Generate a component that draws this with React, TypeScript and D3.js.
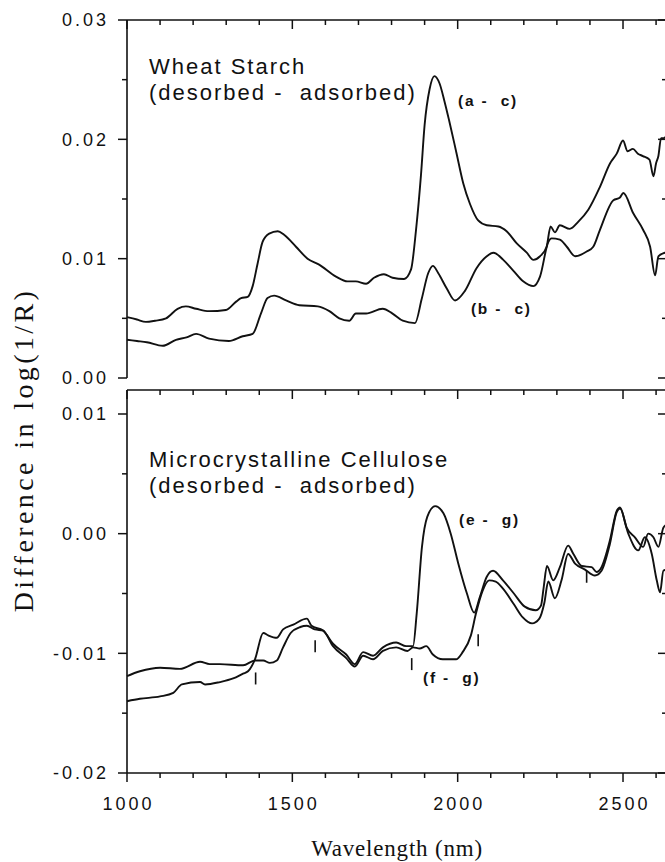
import React from 'react';
import * as d3 from 'd3';

// wheat starch, (a - c)
const wlAC = [1000, 1030, 1057, 1085, 1118, 1153, 1178, 1209, 1248, 1299, 1330, 1345, 1365, 1380, 1395, 1410, 1430, 1456, 1475, 1511, 1546, 1581, 1632, 1667, 1692, 1723, 1747, 1777, 1803, 1838, 1859, 1874, 1889, 1900, 1915, 1930, 1945, 1960, 1974, 1996, 2017, 2037, 2062, 2088, 2123, 2148, 2178, 2209, 2229, 2249, 2269, 2281, 2294, 2309, 2339, 2365, 2395, 2430, 2461, 2481, 2500, 2514, 2530, 2545, 2560, 2580, 2592, 2600, 2607, 2615, 2623, 2635];
const valAC = [0.0051, 0.0049, 0.0047, 0.0048, 0.0050, 0.0058, 0.0060, 0.0058, 0.0056, 0.0057, 0.0064, 0.0067, 0.0068, 0.0077, 0.0096, 0.0114, 0.0121, 0.0123, 0.0120, 0.0110, 0.0100, 0.0095, 0.0085, 0.0081, 0.0081, 0.0079, 0.0084, 0.0087, 0.0084, 0.0083, 0.0091, 0.0124, 0.0170, 0.0212, 0.0242, 0.0253, 0.0247, 0.0232, 0.0216, 0.0189, 0.0163, 0.0146, 0.0132, 0.0128, 0.0127, 0.0123, 0.0113, 0.0105, 0.0099, 0.0102, 0.0110, 0.0127, 0.0122, 0.0128, 0.0125, 0.0131, 0.0141, 0.0160, 0.0180, 0.0188, 0.0199, 0.0190, 0.0192, 0.0188, 0.0186, 0.0183, 0.0169, 0.0180, 0.0186, 0.0201, 0.0201, 0.0205];

// wheat starch, (b - c)
const wlBC = [1000, 1030, 1060, 1108, 1148, 1180, 1209, 1248, 1308, 1350, 1380, 1405, 1425, 1445, 1481, 1521, 1577, 1612, 1642, 1672, 1692, 1723, 1773, 1803, 1834, 1871, 1891, 1911, 1925, 1941, 1967, 1992, 2022, 2057, 2088, 2108, 2138, 2168, 2198, 2229, 2249, 2274, 2284, 2309, 2330, 2355, 2390, 2410, 2430, 2471, 2490, 2501, 2531, 2561, 2582, 2597, 2607, 2627, 2635];
const valBC = [0.0032, 0.0031, 0.0030, 0.0027, 0.0032, 0.0034, 0.0037, 0.0033, 0.0031, 0.0035, 0.0037, 0.0054, 0.0067, 0.0069, 0.0065, 0.0061, 0.0060, 0.0056, 0.0050, 0.0048, 0.0054, 0.0054, 0.0058, 0.0054, 0.0048, 0.0046, 0.0066, 0.0088, 0.0094, 0.0088, 0.0075, 0.0065, 0.0073, 0.0092, 0.0102, 0.0105, 0.0099, 0.0090, 0.0081, 0.0077, 0.0085, 0.0114, 0.0117, 0.0116, 0.0110, 0.0102, 0.0106, 0.0110, 0.0124, 0.0149, 0.0151, 0.0155, 0.0138, 0.0124, 0.0110, 0.0086, 0.0102, 0.0105, 0.0106];

// microcrystalline cellulose, (e - g)
const wlEG = [1000, 1039, 1100, 1140, 1166, 1221, 1236, 1281, 1321, 1351, 1366, 1387, 1412, 1427, 1453, 1472, 1503, 1544, 1558, 1593, 1623, 1663, 1689, 1714, 1744, 1774, 1814, 1844, 1865, 1876, 1892, 1908, 1932, 1957, 1979, 2001, 2028, 2050, 2067, 2088, 2107, 2137, 2170, 2203, 2236, 2252, 2260, 2270, 2289, 2309, 2334, 2350, 2375, 2405, 2420, 2435, 2460, 2481, 2491, 2511, 2536, 2561, 2576, 2592, 2607, 2622, 2635];
const valEG = [-0.0140, -0.0138, -0.0136, -0.0133, -0.0126, -0.0124, -0.0126, -0.0124, -0.0121, -0.0117, -0.0115, -0.0105, -0.0083, -0.0085, -0.0087, -0.0080, -0.0076, -0.0071, -0.0077, -0.0081, -0.0092, -0.0101, -0.0109, -0.0099, -0.0102, -0.0095, -0.0091, -0.0094, -0.0094, -0.0067, -0.0011, 0.0014, 0.0023, 0.0017, 0.0000, -0.0024, -0.0050, -0.0066, -0.0053, -0.0036, -0.0031, -0.0039, -0.0050, -0.0061, -0.0064, -0.0060, -0.0045, -0.0027, -0.0039, -0.0028, -0.0010, -0.0017, -0.0027, -0.0028, -0.0032, -0.0028, -0.0006, 0.0019, 0.0022, 0.0005, -0.0003, -0.0011, 0.0000, -0.0003, -0.0011, 0.0005, 0.0008];

// microcrystalline cellulose, (f - g)
const wlFG = [1000, 1039, 1100, 1160, 1221, 1250, 1281, 1351, 1387, 1412, 1432, 1453, 1472, 1495, 1524, 1544, 1568, 1593, 1623, 1663, 1689, 1714, 1744, 1774, 1814, 1848, 1865, 1885, 1905, 1925, 1955, 1995, 2015, 2040, 2055, 2075, 2095, 2115, 2137, 2170, 2197, 2225, 2247, 2262, 2274, 2294, 2314, 2334, 2355, 2385, 2415, 2435, 2460, 2481, 2491, 2516, 2546, 2566, 2587, 2602, 2612, 2622, 2635];
const valFG = [-0.0119, -0.0115, -0.0112, -0.0113, -0.0107, -0.0109, -0.0109, -0.0110, -0.0106, -0.0106, -0.0108, -0.0106, -0.0095, -0.0083, -0.0078, -0.0077, -0.0080, -0.0081, -0.0094, -0.0104, -0.0111, -0.0102, -0.0105, -0.0098, -0.0095, -0.0098, -0.0095, -0.0096, -0.0094, -0.0101, -0.0105, -0.0105, -0.0099, -0.0085, -0.0067, -0.0048, -0.0039, -0.0040, -0.0046, -0.0059, -0.0070, -0.0075, -0.0071, -0.0058, -0.0040, -0.0054, -0.0039, -0.0017, -0.0025, -0.0030, -0.0035, -0.0031, -0.0009, 0.0018, 0.0021, 0.0000, -0.0014, -0.0003, -0.0017, -0.0039, -0.0049, -0.0031, -0.0030];

// little vertical markers in the cellulose panel
const markWl = [1389, 1569, 1861, 2062, 2390];
const markVal = [-0.0121, -0.0094, -0.0109, -0.0089, -0.0036];

const xTicks = [1000, 1500, 2000, 2500];
const topYTicks = [0, 0.01, 0.02, 0.03];
const botYTicks = [-0.02, -0.01, 0, 0.01];

const topTitle = ['Wheat Starch', '(desorbed -  adsorbed)'];
const botTitle = ['Microcrystalline Cellulose', '(desorbed -  adsorbed)'];
const seriesNames = ['(a -  c)', '(b -  c)', '(e -  g)', '(f -  g)'];

const ink = '#111';
const sans = "'Liberation Sans', Arial, Helvetica, sans-serif";
const serif = "'Liberation Serif', 'Times New Roman', serif";

const isMajorY = (v: number) => Math.abs(v * 100 - Math.round(v * 100)) < 1e-6;

export default function App() {
  const W = 665, H = 862;
  const x = d3.scaleLinear().domain([1000, 2630]).range([127, 666]);
  const yTop = d3.scaleLinear().domain([0, 0.03]).range([378, 20]);
  const yBot = d3.scaleLinear().domain([-0.02, 0.01]).range([773, 414]);
  const botFrame = 390;
  const xLeft = x(1000), xRight = x(2630);

  const zip = (w: number[], v: number[]) => w.map((d, i) => [d, v[i]] as [number, number]);
  const lineTop = d3.line<[number, number]>().x(d => x(d[0])).y(d => yTop(d[1])).curve(d3.curveMonotoneX);
  const lineBot = d3.line<[number, number]>().x(d => x(d[0])).y(d => yBot(d[1])).curve(d3.curveMonotoneX);

  const xMinor = d3.range(1000, 2631, 100);
  const topMinor = d3.range(0, 0.0301, 0.005);
  const botMinor = d3.range(-0.02, 0.0101, 0.005);

  const tickFont = 18, tickLs = 3;
  const titleFont = 22, titleLs = 2;

  const xFrameTicks = (y0: number, dir: number, key: string) =>
    xMinor.map(w => (
      <line key={key + w} x1={x(w)} x2={x(w)} y1={y0} y2={y0 + dir * (w % 500 === 0 ? 9 : 5)} stroke={ink} strokeWidth={1.5} />
    ));

  const yAxisTicks = (vals: number[], y: d3.ScaleLinear<number, number>, key: string) =>
    vals.map((v, i) => (
      <g key={key + i}>
        <line x1={xLeft} x2={xLeft - (isMajorY(v) ? 9 : 5)} y1={y(v)} y2={y(v)} stroke={ink} strokeWidth={1.5} />
        <line x1={xRight} x2={xRight - (isMajorY(v) ? 8 : 4)} y1={y(v)} y2={y(v)} stroke={ink} strokeWidth={1.5} />
      </g>
    ));

  const yLabels = (vals: number[], y: d3.ScaleLinear<number, number>, key: string) =>
    vals.map((v, i) => (
      <text key={key + i} x={106 + tickLs} y={y(v)} dy="0.36em" textAnchor="end"
        fontFamily={sans} fontSize={tickFont} letterSpacing={tickLs} fill={ink}>
        {v.toFixed(2)}
      </text>
    ));

  const lines = [
    { d: lineTop(zip(wlAC, valAC)) },
    { d: lineTop(zip(wlBC, valBC)) },
    { d: lineBot(zip(wlEG, valEG)) },
    { d: lineBot(zip(wlFG, valFG)) },
  ];

  return (
    <svg width={W} height={H} style={{ position: 'absolute', left: 0, top: 0, background: '#fff' }}>
      <rect width={W} height={H} fill="#fff" />

      {/* top panel frame */}
      <line x1={xLeft} x2={xLeft} y1={yTop(0.03)} y2={yTop(0)} stroke={ink} strokeWidth={1.6} />
      <line x1={xLeft} x2={xRight} y1={yTop(0.03)} y2={yTop(0.03)} stroke={ink} strokeWidth={1.6} />
      <line x1={xRight} x2={xRight} y1={yTop(0.03)} y2={yTop(0)} stroke={ink} strokeWidth={1.6} />
      {xFrameTicks(yTop(0.03), 1, 'tt')}
      {yAxisTicks(topMinor, yTop, 'ty')}
      {yLabels(topYTicks, yTop, 'tl')}

      {/* bottom panel frame */}
      <line x1={xLeft} x2={xLeft} y1={botFrame} y2={yBot(-0.02)} stroke={ink} strokeWidth={1.6} />
      <line x1={xLeft} x2={xRight} y1={botFrame} y2={botFrame} stroke={ink} strokeWidth={1.6} />
      <line x1={xLeft} x2={xRight} y1={yBot(-0.02)} y2={yBot(-0.02)} stroke={ink} strokeWidth={1.6} />
      <line x1={xRight} x2={xRight} y1={botFrame} y2={yBot(-0.02)} stroke={ink} strokeWidth={1.6} />
      {xFrameTicks(botFrame, 1, 'bt')}
      {xFrameTicks(yBot(-0.02), 1, 'bb')}
      {yAxisTicks(botMinor, yBot, 'by')}
      {yLabels(botYTicks, yBot, 'bl')}

      {xTicks.map(w => (
        <text key={'xl' + w} x={x(w) + tickLs / 2} y={810} textAnchor="middle"
          fontFamily={sans} fontSize={tickFont} letterSpacing={tickLs} fill={ink}>{w}</text>
      ))}

      {/* spectra */}
      {lines.map((l, i) => (
        <path key={'s' + i} d={l.d || ''} fill="none" stroke={ink} strokeWidth={1.9} strokeLinejoin="round" />
      ))}

      {markWl.map((w, i) => (
        <line key={'m' + i} x1={x(w)} x2={x(w)} y1={yBot(markVal[i]) - 6} y2={yBot(markVal[i]) + 6} stroke={ink} strokeWidth={1.6} />
      ))}

      {/* panel titles */}
      {topTitle.map((t, i) => (
        <text key={'tt' + i} x={149} y={74 + i * 26} fontFamily={sans} fontSize={titleFont}
          letterSpacing={titleLs} fill={ink} style={{ whiteSpace: 'pre' }}>{t}</text>
      ))}
      {botTitle.map((t, i) => (
        <text key={'bt' + i} x={149} y={467 + i * 26} fontFamily={sans} fontSize={titleFont}
          letterSpacing={titleLs} fill={ink} style={{ whiteSpace: 'pre' }}>{t}</text>
      ))}

      {/* curve labels */}
      <text x={x(2001)} y={yTop(0.0228)} fontFamily={sans} fontSize={15.5} fontWeight="bold" letterSpacing={1.8} fill={ink} style={{ whiteSpace: 'pre' }}>{seriesNames[0]}</text>
      <text x={x(2040)} y={yTop(0.0054)} fontFamily={sans} fontSize={15.5} fontWeight="bold" letterSpacing={1.8} fill={ink} style={{ whiteSpace: 'pre' }}>{seriesNames[1]}</text>
      <text x={x(2004)} y={yBot(0.0007)} fontFamily={sans} fontSize={15.5} fontWeight="bold" letterSpacing={1.8} fill={ink} style={{ whiteSpace: 'pre' }}>{seriesNames[2]}</text>
      <text x={x(1895)} y={yBot(-0.0125)} fontFamily={sans} fontSize={15.5} fontWeight="bold" letterSpacing={1.8} fill={ink} style={{ whiteSpace: 'pre' }}>{seriesNames[3]}</text>

      {/* axis titles */}
      <text x={397} y={856} textAnchor="middle" fontFamily={serif} fontSize={23} letterSpacing={0.8} fill={ink}>
        Wavelength (nm)
      </text>
      <text transform="translate(33,450) rotate(-90)" textAnchor="middle" fontFamily={serif}
        fontSize={28} letterSpacing={3.4} fill={ink}>
        Difference in log(1/R)
      </text>
    </svg>
  );
}
